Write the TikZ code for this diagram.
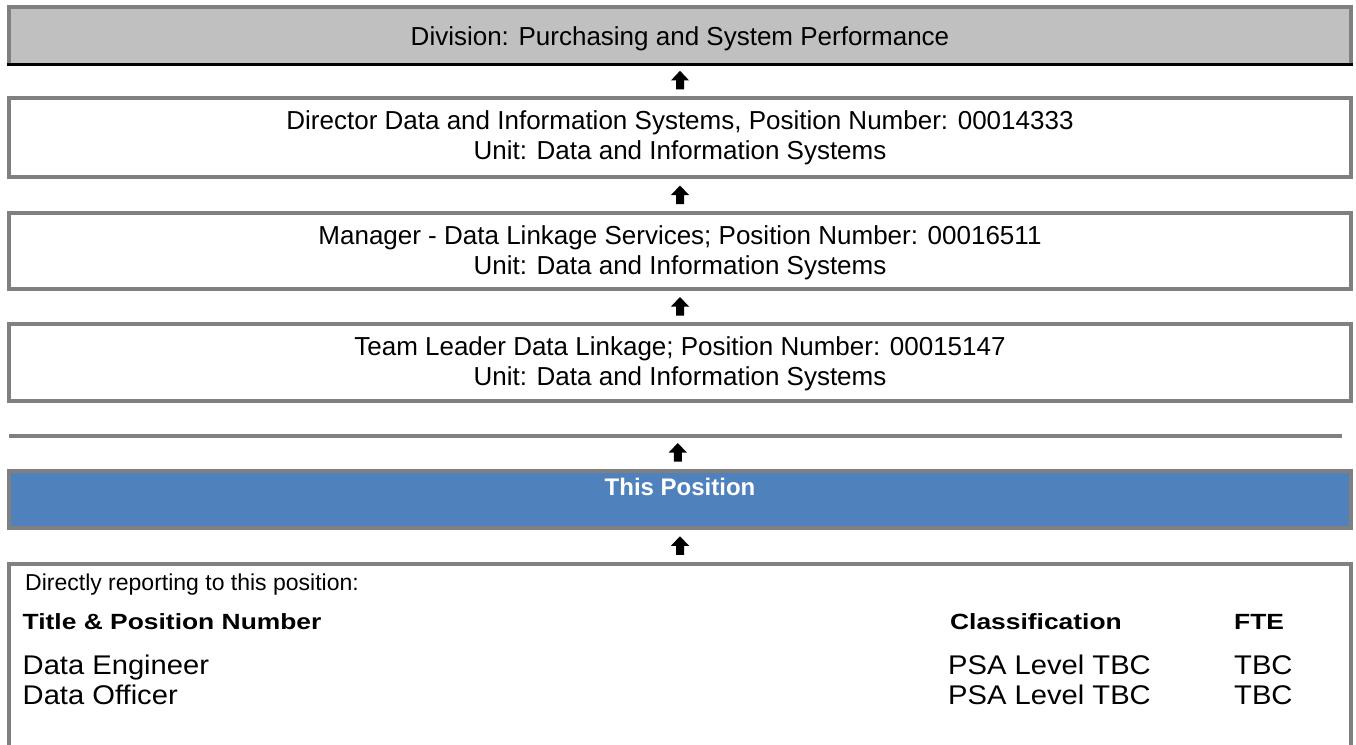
\documentclass[tikz,border=0pt]{standalone}
\usepackage{fontspec}
\setmainfont{Liberation Sans}
\usepackage{graphicx}
\usetikzlibrary{calc}
\definecolor{bordergray}{HTML}{808080}
\definecolor{topfill}{HTML}{C0C0C0}
\definecolor{bluefill}{HTML}{4F81BD}
\tikzset{
  framebox/.style={draw=bordergray, line width=4pt, minimum width=1342pt, inner sep=0pt, rectangle},
  boxtext/.style={font=\fontsize{26}{30}\selectfont, anchor=base, inner sep=0pt},
  reptext/.style={font=\fontsize{23}{27}\selectfont, anchor=base west, inner sep=0pt},
  headtext/.style={inner sep=0pt, font=\fontsize{22}{26}\selectfont\bfseries},
  rowtext/.style={inner sep=0pt, font=\fontsize{27}{30}\selectfont},
  uparrow/.pic={\fill[black] (-4,9) -- (-4,0) -- (-9,0) -- (0,-9.5) -- (9,0) -- (4,0) -- (4,9) -- cycle;}
}
\newcommand{\hx}[1]{\scalebox{1.2}[1]{#1}}
\newcommand{\rx}[1]{\scalebox{1.08}[1]{#1}}
\begin{document}
\begin{tikzpicture}[x=1pt,y=-1pt]
\useasboundingbox (0,0) rectangle (1356,744);
% top division box
\node[rectangle, fill=topfill, minimum width=1342pt, minimum height=57.5pt, inner sep=0pt] (div) at (680,35.75) {};
\draw[bordergray, line width=4pt] (div.south west) -- (div.north west) -- (div.north east) -- (div.south east);
\draw[black, line width=2.5pt] ([xshift=-2pt]div.south west) -- ([xshift=2pt]div.south east);
\node[boxtext] (divT) at (680,45) {Division: Purchasing and System Performance};
% director
\node[framebox, minimum height=79pt] (dir) at (680,137.5) {};
\node[boxtext] (dirA) at ($(dir.north)+(0,33)$) {Director Data and Information Systems, Position Number: 00014333};
\node[boxtext] (dirB) at ($(dir.north)+(0,63)$) {Unit: Data and Information Systems};
% manager
\node[framebox, minimum height=76pt] (man) at (680,251) {};
\node[boxtext] (manA) at ($(man.north)+(0,33)$) {Manager - Data Linkage Services; Position Number: 00016511};
\node[boxtext] (manB) at ($(man.north)+(0,63)$) {Unit: Data and Information Systems};
% team leader
\node[framebox, minimum height=77pt] (tl) at (680,362.5) {};
\node[boxtext] (tlA) at ($(tl.north)+(0,33)$) {Team Leader Data Linkage; Position Number: 00015147};
\node[boxtext] (tlB) at ($(tl.north)+(0,63)$) {Unit: Data and Information Systems};
% separator line
\coordinate (sepL) at (9,436);
\coordinate (sepR) at (1342,436);
\draw[bordergray, line width=4pt] (sepL) -- (sepR);
% this position
\node[framebox, fill=bluefill, minimum height=57pt] (pos) at (680,499.5) {};
\node[inner sep=0pt, anchor=base, text=white, font=\fontsize{24}{28}\selectfont\bfseries] (posT) at ($(pos.north)+(0,26)$) {This Position};
% reporting box
\node[framebox, minimum height=200pt] (rep) at (680,663.5) {};
\node[reptext] (repT) at (25,590) {Directly reporting to this position:};
\node[headtext, anchor=base west] (h1) at (22.5,629) {\hx{Title \& Position Number}};
\node[headtext, anchor=base east] (h2) at (1122,629) {\hx{Classification}};
\node[headtext, anchor=base west] (h3) at (1234,629) {\hx{FTE}};
\node[rowtext, anchor=base west] (r1a) at (22.5,674) {\rx{Data Engineer}};
\node[rowtext, anchor=base east] (r1b) at (1151,674) {\rx{PSA Level TBC}};
\node[rowtext, anchor=base west] (r1c) at (1234,674) {\rx{TBC}};
\node[rowtext, anchor=base west] (r2a) at (22.5,704) {\rx{Data Officer}};
\node[rowtext, anchor=base east] (r2b) at (1151,704) {\rx{PSA Level TBC}};
\node[rowtext, anchor=base west] (r2c) at (1234,704) {\rx{TBC}};
% arrows
\pic at ($(div.south)!0.5!(dir.north)$) {uparrow};
\pic at ($(dir.south)!0.5!(man.north)$) {uparrow};
\pic at ($(man.south)!0.5!(tl.north)$) {uparrow};
\pic at ($(sepL)!0.5!(sepR)!0.5!(pos.north)$) {uparrow};
\pic at ($(pos.south)!0.5!(rep.north)$) {uparrow};
\end{tikzpicture}
\end{document}
